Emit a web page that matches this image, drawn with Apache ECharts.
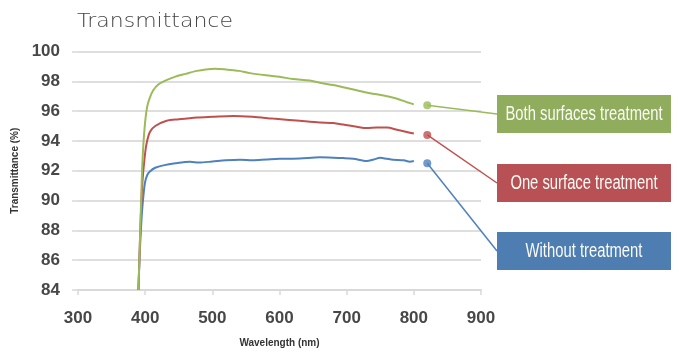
<!DOCTYPE html>
<html><head><meta charset="utf-8">
<script src="https://cdn.jsdelivr.net/npm/echarts@6/dist/echarts.min.js"></script>
<style>html,body{margin:0;padding:0;background:#fff}#c{width:679px;height:353px}</style>
</head><body><div id="c"></div>
<script>
const titleText = 'Transmittance';
const xTitle = 'Wavelength (nm)';
const yTitle = 'Transmittance (%)';
const seriesNames = ['Both surfaces treatment', 'One surface treatment', 'Without treatment'];
const lineColors = ['#9bbb59', '#c0504d', '#4f81bd'];
const boxColors = ['#8fad5d', '#b85155', '#4e7db2'];

const wlBoth = [390,393,395,397,400,403,407,412,420,430,444,460,477,490,504,520,540,556,580,600,620,645,660,680,695,715,735,755,774,790,800];
const tBoth  = [84.0,88.5,91.5,93.5,95.3,96.3,96.9,97.4,97.8,98.05,98.3,98.5,98.7,98.8,98.85,98.8,98.7,98.55,98.4,98.3,98.15,98.05,97.9,97.75,97.6,97.4,97.2,97.05,96.85,96.6,96.45];

const wlOne = [390,392,394,396,399,402,407,415,432,450,477,500,531,560,590,630,660,680,695,715,730,745,760,775,794,800];
const tOne  = [84.0,87.0,89.5,91.3,92.8,93.8,94.6,95.0,95.35,95.45,95.57,95.62,95.68,95.62,95.5,95.35,95.24,95.2,95.1,94.95,94.86,94.9,94.9,94.75,94.55,94.5];

const wlNone = [390,392,395,398,400,403,407,415,427,445,467,480,500,520,541,560,580,600,630,660,680,695,710,730,740,750,760,769,785,794,800];
const tNone  = [84.0,86.5,89.05,90.6,91.26,91.7,91.95,92.2,92.36,92.5,92.6,92.55,92.62,92.7,92.74,92.7,92.75,92.8,92.82,92.9,92.88,92.85,92.8,92.65,92.75,92.87,92.8,92.74,92.7,92.6,92.65];

const markerX = 820;
const markerY = [96.4, 94.4, 92.5];

const xMin = 300, xMax = 900, xStep = 100;
const yMin = 84, yMax = 100, yStep = 2;

const pairs = (xs, ys) => xs.map((x, i) => [x, ys[i]]);
const curves = [pairs(wlBoth, tBoth), pairs(wlOne, tOne), pairs(wlNone, tNone)];

const chart = echarts.init(document.getElementById('c'), null, {renderer: 'canvas'});
const labelFont = {fontFamily: 'Liberation Sans, Arial, sans-serif', fontSize: 17, fontWeight: 'bold', color: '#474747'};

chart.setOption({
  animation: false,
  grid: {left: 78, right: 198, top: 51.5, bottom: 60},
  xAxis: {
    type: 'value', min: xMin, max: xMax, interval: xStep,
    name: xTitle, nameLocation: 'middle', nameGap: 48,
    nameTextStyle: {fontFamily: 'Liberation Sans, Arial, sans-serif', fontSize: 10, fontWeight: 'bold', color: '#333'},
    axisLine: {show: true, lineStyle: {color: '#d9d9d9', width: 2}},
    axisTick: {show: true, length: 5, lineStyle: {color: '#d9d9d9', width: 1.5}},
    axisLabel: Object.assign({margin: 20}, labelFont),
    splitLine: {show: false}
  },
  yAxis: {
    type: 'value', min: yMin, max: yMax, interval: yStep,
    name: yTitle, nameLocation: 'middle', nameGap: 53, nameRotate: 90,
    nameTextStyle: {fontFamily: 'Liberation Sans, Arial, sans-serif', fontSize: 10, fontWeight: 'bold', color: '#333'},
    axisLine: {show: false},
    axisTick: {show: true, length: 6, lineStyle: {color: '#d9d9d9', width: 1.5}},
    axisLabel: Object.assign({margin: 18}, labelFont),
    splitLine: {show: true, lineStyle: {color: '#dedede', width: 2}}
  },
  series: curves.map((d, i) => ({
    type: 'line', name: seriesNames[i], data: d, showSymbol: false, smooth: 0.3,
    lineStyle: {color: lineColors[i], width: 2}, z: 3 - i
  })).concat([{
    type: 'scatter', symbolSize: 8,
    data: markerY.map((v, i) => ({value: [markerX, v], itemStyle: {color: lineColors[i]}}))
  }])
});

const boxX = 497, boxW = 174, boxH = 38;
const boxTops = [95, 164, 232];
const g = [{
  type: 'text', x: 77, y: 22, scaleX: 1.1,
  style: {text: titleText, fill: '#444', align: 'left', verticalAlign: 'middle', font: '200 20px "DejaVu Sans", sans-serif'}, z: 7
}];
markerY.forEach((v, i) => {
  const p = chart.convertToPixel({gridIndex: 0}, [markerX, v]);
  const top = boxTops[i];
  g.push({type: 'line', shape: {x1: p[0], y1: p[1], x2: boxX, y2: top + 19}, style: {stroke: lineColors[i], lineWidth: 1.5}, z: 5});
  g.push({type: 'rect', shape: {x: boxX, y: top, width: boxW, height: boxH}, style: {fill: boxColors[i]}, z: 6});
  g.push({type: 'text', x: boxX + boxW / 2, y: top + boxH / 2, scaleX: 0.74,
    style: {text: seriesNames[i], fill: '#fbfbf5', align: 'center', verticalAlign: 'middle', font: '20px "Liberation Sans", Arial, sans-serif'}, z: 7});
});
chart.setOption({graphic: g});
</script></body></html>
